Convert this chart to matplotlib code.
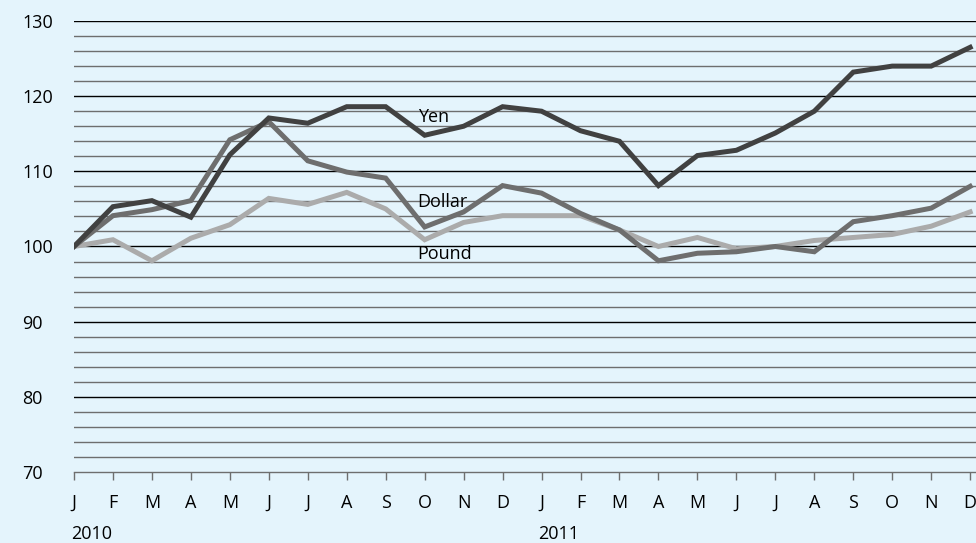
import numpy as np
import matplotlib
matplotlib.use("Agg")
import matplotlib.pyplot as plt

# month labels for two years (2010, 2011)
months = ["J", "F", "M", "A", "M", "J", "J", "A", "S", "O", "N", "D"] * 2
years = ["2010", "2011"]

# index values, January 2010 = 100
yen = [100.0, 105.3, 106.1, 103.9, 112.2, 117.1, 116.4, 118.6, 118.6, 114.8, 116.0, 118.6,
       118.0, 115.4, 114.0, 108.1, 112.1, 112.8, 115.1, 118.0, 123.2, 124.0, 124.0, 126.5]
dollar = [100.0, 104.1, 104.9, 106.1, 114.2, 116.6, 111.4, 109.9, 109.1, 102.6, 104.6, 108.1,
          107.1, 104.4, 102.2, 98.1, 99.1, 99.3, 100.0, 99.3, 103.3, 104.1, 105.1, 108.0]
pound = [100.0, 100.9, 98.1, 101.1, 102.9, 106.4, 105.6, 107.2, 105.0, 100.9, 103.2, 104.1,
         104.1, 104.1, 102.2, 100.0, 101.2, 99.7, 100.0, 100.8, 101.2, 101.6, 102.7, 104.6]

plt.rcParams['font.family'] = ['Open Sans', 'DejaVu Sans']

bg = '#E4F4FC'
fig = plt.figure(figsize=(9.76, 5.43), dpi=100, facecolor=bg)
ax = fig.add_axes([0.0758, 0.1308, 1 - 0.0758, 0.9613 - 0.1308])
ax.set_facecolor(bg)

x = np.arange(len(months))

# gridlines: minor every 2, major every 10
for v in range(72, 131, 2):
    if v % 10 == 0:
        ax.axhline(v, color='black', lw=1.0, zorder=1)
    else:
        ax.axhline(v, color='#6e6e6e', lw=1.0, zorder=1)

ax.plot(x, pound, color='#ababab', lw=3.6, zorder=3, solid_joinstyle='miter')
ax.plot(x, dollar, color='#6e6e6e', lw=3.6, zorder=4, solid_joinstyle='miter')
ax.plot(x, yen, color='#414141', lw=3.6, zorder=5, solid_joinstyle='miter')

ax.text(8.82, 117.2, "Yen", fontsize=13, va='center', ha='left', zorder=6)
ax.text(8.82, 105.9, "Dollar", fontsize=13, va='center', ha='left', zorder=6)
ax.text(8.82, 99.0, "Pound", fontsize=13, va='center', ha='left', zorder=6)

ax.set_xlim(0, 23.15)
ax.set_ylim(70, 130)

for s in ['top', 'right', 'left']:
    ax.spines[s].set_visible(False)
ax.spines['bottom'].set_color('#6e6e6e')
ax.spines['bottom'].set_linewidth(1.0)

# y labels are left-aligned near the figure edge
ax.set_yticks(range(70, 131, 10))
ax.tick_params(axis='y', length=0, pad=37.4, labelsize=13)
for lbl in ax.get_yticklabels():
    lbl.set_horizontalalignment('left')

ax.set_xticks(x)
ax.set_xticklabels(months)
ax.tick_params(axis='x', length=6, width=1.0, color='#6e6e6e', direction='out',
               pad=10, labelsize=13)

for i, yr in enumerate(years):
    ax.text(i * 12 - 0.08, -0.138, yr, transform=ax.get_xaxis_transform(),
            fontsize=13, ha='left', va='center')

fig.savefig("out.png", dpi=100, facecolor=bg)
